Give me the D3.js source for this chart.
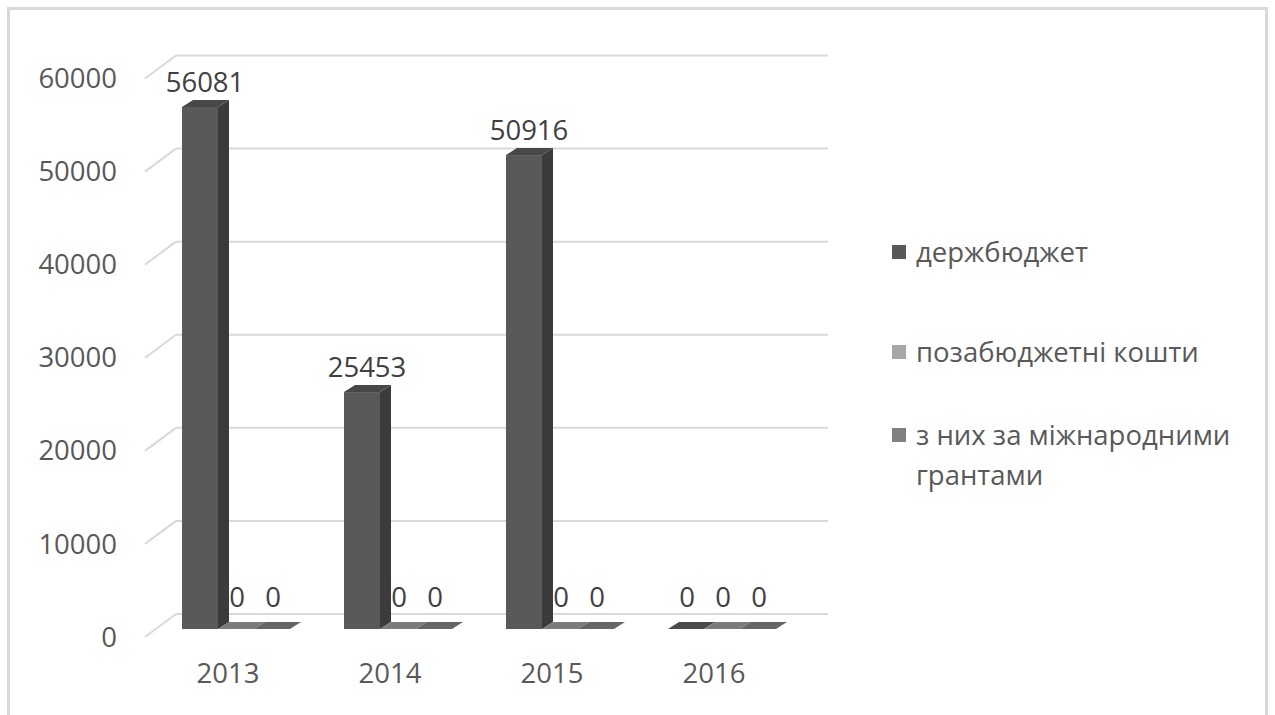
<!DOCTYPE html>
<html>
<head>
<meta charset="utf-8">
<script src="https://cdn.jsdelivr.net/npm/d3@7"></script>
<style>
html,body{margin:0;padding:0;background:#fff;}
svg{display:block;}
</style>
</head>
<body>
<svg id="chart" width="1275" height="715"></svg>
<script>
const categories = ["2013", "2014", "2015", "2016"];
const seriesNames = ["держбюджет", "позабюджетні кошти", "з них за міжнародними грантами"];
const derzhbudzhet = [56081, 25453, 50916, 0];
const pozabudzhetni = [0, 0, 0, 0];
const hranty = [0, 0, 0, 0];
const tickValues = [0, 10000, 20000, 30000, 40000, 50000, 60000];

const seriesValues = [derzhbudzhet, pozabudzhetni, hranty];
const frontColors = ["#595959", "#a6a6a6", "#808080"];
const flatColors = ["#4a4a4a", "#7b7b7b", "#666666"];
const sideColors = ["#3b3b3b", "#6e6e6e", "#555555"];
const topColors = ["#484848", "#7b7b7b", "#666666"];

const svg = d3.select("#chart");
const FONT = "'Open Sans', sans-serif";

// frame
svg.append("rect").attr("x", 8.5).attr("y", 8.5).attr("width", 1258).attr("height", 720)
  .attr("fill", "none").attr("stroke", "#d9d9d9").attr("stroke-width", 3);

// depth geometry (oblique projection)
const wallDX = 31, wallDY = -23;
const barDX = 11, barDY = -7;
const barFrontDY = -8;

// scales
const yFront = d3.scaleLinear().domain([0, 60000]).range([637, 637 - 558.5]);
const x = d3.scaleBand().domain(categories).range([145, 793]).paddingInner(0).paddingOuter(0);
const xs = d3.scaleBand().domain(d3.range(3)).range([37, 145]);

// gridlines
const grid = svg.append("g");
tickValues.forEach(v => {
  const yf = yFront(v);
  const yb = yf + wallDY;
  grid.append("line").attr("x1", 145).attr("y1", yf).attr("x2", 145 + wallDX).attr("y2", yb)
    .attr("stroke", "#d9d9d9").attr("stroke-width", 2);
  grid.append("line").attr("x1", 145 + wallDX).attr("y1", yb).attr("x2", 828).attr("y2", yb)
    .attr("stroke", "#d9d9d9").attr("stroke-width", 2);
});

// y axis labels
svg.append("g").selectAll("text").data(tickValues).join("text")
  .attr("x", 117).attr("y", d => yFront(d)).attr("dy", "0.35em")
  .attr("text-anchor", "end").attr("font-family", FONT).attr("font-size", 27.5)
  .attr("fill", "#595959").text(d => d);

// category labels
svg.append("g").selectAll("text").data(categories).join("text")
  .attr("x", d => x(d) + 83).attr("y", 673).attr("dy", "0.35em")
  .attr("text-anchor", "middle").attr("font-family", FONT).attr("font-size", 27.5)
  .attr("fill", "#595959").text(d => d);

const labels = [];
categories.forEach((c, ci) => {
  seriesValues.forEach((vals, si) => {
    labels.push({c, si, v: vals[ci]});
  });
});
const baseY = yFront(0) + barFrontDY;
const yBar = v => yFront(v) + barFrontDY;

// zero labels (behind bars)
svg.append("g").selectAll("text").data(labels.filter(d => d.v === 0)).join("text")
  .attr("x", d => x(d.c) + xs(d.si) + xs.bandwidth() / 2 + 1)
  .attr("y", 597).attr("dy", "0.35em")
  .attr("text-anchor", "middle").attr("font-family", FONT).attr("font-size", 27.5)
  .attr("fill", "#404040").text(d => d.v);

// bars
const bars = svg.append("g");
labels.forEach(d => {
  const x0 = x(d.c) + xs(d.si);
  const w = xs.bandwidth();
  const yb = baseY;
  const yt = yBar(d.v);
  if (d.v === 0) {
    bars.append("path")
      .attr("d", `M${x0},${yb} L${x0 + w},${yb} L${x0 + w + barDX},${yb + barDY} L${x0 + barDX},${yb + barDY} Z`)
      .attr("fill", flatColors[d.si]);
  } else {
    bars.append("path")
      .attr("d", `M${x0 + w},${yb} L${x0 + w + barDX},${yb + barDY} L${x0 + w + barDX},${yt + barDY} L${x0 + w},${yt} Z`)
      .attr("fill", sideColors[d.si]);
    bars.append("path")
      .attr("d", `M${x0},${yt} L${x0 + w},${yt} L${x0 + w + barDX},${yt + barDY} L${x0 + barDX},${yt + barDY} Z`)
      .attr("fill", topColors[d.si]);
    bars.append("rect").attr("x", x0).attr("y", yt).attr("width", w).attr("height", yb - yt)
      .attr("fill", frontColors[d.si]);
  }
});

// non-zero data labels
svg.append("g").selectAll("text").data(labels.filter(d => d.v !== 0)).join("text")
  .attr("x", d => x(d.c) + xs(d.si) + xs.bandwidth() / 2 + 5)
  .attr("y", d => yBar(d.v) - 25).attr("dy", "0.35em")
  .attr("text-anchor", "middle").attr("font-family", FONT).attr("font-size", 27.5)
  .attr("fill", "#404040").text(d => d.v);

// legend
const legendY = [252, 352, 435];
const legend = svg.append("g");
seriesNames.forEach((name, i) => {
  legend.append("rect").attr("x", 892).attr("y", legendY[i] - 7).attr("width", 14).attr("height", 14)
    .attr("fill", frontColors[i]);
});
const legendLines = [["держбюджет"], ["позабюджетні кошти"], ["з них за міжнародними", "грантами"]];
legendLines.forEach((lines, i) => {
  lines.forEach((t, j) => {
    legend.append("text").attr("x", 916).attr("y", legendY[i] + j * 40).attr("dy", "0.35em")
      .attr("font-family", FONT).attr("font-size", 27.5).attr("fill", "#595959").text(t);
  });
});
</script>
</body>
</html>
